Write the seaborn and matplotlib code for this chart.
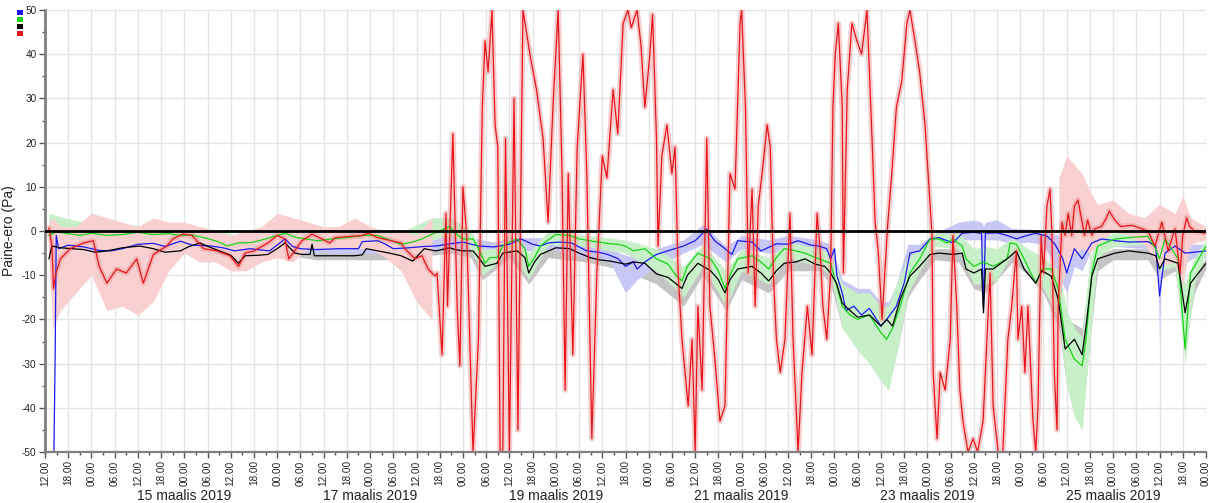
import pandas as pd
import numpy as np
import matplotlib
matplotlib.use("Agg")
import matplotlib.pyplot as plt
import matplotlib.dates as mdates
import matplotlib.transforms as mtrans
from matplotlib.patches import Patch
from matplotlib.ticker import MultipleLocator
import seaborn as sns

# ---------------- data (hours after 14 Mar 2019 12:00, value in Pa) ----------------
START = pd.Timestamp("2019-03-14 12:00")
END = pd.Timestamp("2019-03-27 00:00")

blue = [(1,-50),(2.3,-50),(2.6,-30),(2.9,-1),(3.5,-4),(6,-3.2),(10,-3.6),(14,-4.4),(17,-4.5),(20,-4),
        (24,-3),(28,-2.8),(31,-3.5),(35,-2.3),(38,-3.2),(43,-3.4),(46,-3.8),(49,-4.5),(53,-4),(58,-4.5),
        (61,-2.5),(62,-1.8),(64,-3.5),(66,-4),(70,-4.2),(76,-4),(81,-4),(82,-2.4),(86,-2.2),(88,-3),
        (90,-4),(94,-3.8),(98,-3.5),(101,-3.4),(104,-3),(108,-2.5),(112,-3.4),(116,-3.6),(120,-3),(123,-1.8),
        (126,-3),(128,-3.4),(130,-2.7),(133,-2.5),(136,-2.7),(140,-4.5),(143,-4.8),(145,-5.2),(148,-6.2),(150,-8),
        (152,-7),(153,-8.6),(155,-7),(158,-5.3),(162,-4.2),(165,-3.4),(168,-2.2),(171,0.4),(173,-2.2),(175,-3.5),
        (177.5,-5.3),(179,-2.2),(182.7,-2.5),(185,-4.5),(189,-2.9),(192,-3),(194.6,-2.2),(198,-3.2),(200,-3.4),(202,-4),
        (203,-6.3),(204,-4),(204.6,-10),(206,-14),(207,-18),(209,-17),(211,-19),(213,-17.5),(216,-21.5),(217.5,-20),
        (220,-17),(222,-11.8),(223.5,-5),(226,-4.5),(228.7,-1.8),(231,-1.5),(234.6,-2.7),(237,-0.5),(240,-0.3),(242,-0.5),
        (242.5,-17),(243,-0.5),(246,-0.4),(248.6,-1),(251,-1.8),(253,-1.2),(256,-0.5),(259,-1.2),(261,-3),(263,-6.3),
        (264,-9.5),(266,-4),(268,-6.3),(270.5,-2.7),(273,-1.8),(276.5,-2.2),(280,-2.5),(285,-2.4),(287,-3.4),(288,-14.7),
        (289.4,-5),(292,-3.4),(294.6,-5),(297,-4.8),(300,-4.5)]

green = [(1,-1),(3,-0.2),(6,-0.6),(9,-1),(12,-0.5),(16,-1),(20,-0.8),(24,-0.3),(28,-0.8),(32,-0.6),
         (35,-1),(38,-0.9),(42,-1.7),(45,-2.5),(47,-3.4),(50,-2.7),(53.5,-2.6),(57,-1.8),(60,-1),(62,-0.5),
         (65,-1.5),(70.5,-2.2),(74,-1.8),(78,-1.5),(82,-1),(86,-1),(89,-2),(92,-3),(95,-2.5),(97.4,-1.8),
         (100.8,-0.4),(104.6,1),(106,-0.5),(108,-1.8),(110.6,-1.8),(112,-4),(113.7,-7.3),(115,-6),(116.8,-6),(118.3,-3.4),
         (120,-2.5),(122,-1.8),(124,-4),(125,-8),(126.5,-6),(128,-3.4),(130,-2),(132,-0.8),(135.6,-1),(138,-1.8),
         (140.8,-2.2),(143,-2.5),(146,-2.9),(148,-3),(150,-3.4),(152,-4.5),(155,-4),(158,-6.3),(161,-7.5),(163,-10),
         (164.6,-11.3),(166,-8),(168.7,-5),(172,-6.3),(174,-9),(175.7,-13),(177,-10),(179,-6.3),(182.7,-5.6),(185,-7),
         (187,-8.6),(189,-6),(191,-4),(194,-4.5),(196.4,-5),(199,-6),(201.5,-6.8),(203,-7.3),(204.6,-12.5),(206,-17),
         (208,-19),(210,-20),(213,-19),(216,-23),(217.5,-24.5),(219,-22),(221,-17),(223.5,-9.5),(226,-6.3),(228.7,-1.8),
         (231,-1.8),(233,-2.7),(234.6,-1.8),(237,-3.4),(238,-6.3),(240,-8),(242.5,-7),(245,-8),(248.6,-6.3),(249.4,-2.7),
         (251,-3),(253,-6.3),(256,-11.8),(257.6,-8.6),(260,-8.6),(261.8,-13),(263.6,-24.5),(266,-29),(268,-30.5),(269,-24.5),
         (270.5,-9.5),(272,-3.4),(276.5,-1.8),(280,-1.5),(285,-1.2),(287,-4),(288,-6.3),(289.4,-1.8),(292.8,-6.3),(294.6,-26.7),
         (296,-9.5),(297,-8),(300,-3.4)]

black = [(1,-6.3),(1.8,-3.4),(4,-3.8),(7,-4),(10,-4.2),(13,-4.8),(16,-4.5),(20,-3.8),(24.5,-3.4),(28,-4),
         (31,-4.8),(35,-4.5),(37,-3.6),(40,-2.7),(43,-3.8),(45,-4.5),(48,-5.5),(50,-7.3),(51.7,-5.6),(55,-5.5),
         (57.6,-5.3),(60,-4),(62,-2.7),(64.6,-5),(66.4,-5.3),(68.5,-5.3),(69,-3),(69.6,-5.6),(72,-5.6),(76,-5.6),
         (80,-5.6),(82,-5.4),(83,-4),(86,-4.5),(89,-5),(92,-5.6),(95,-6.8),(98,-4),(101,-4.5),(104.6,-3.8),
         (106,-4.2),(108,-4.5),(110.6,-4.5),(112,-6),(113.7,-8),(116.8,-7.3),(118.3,-5),(122,-4.5),(124,-6),(125,-9.5),
         (126.5,-7),(128,-5.3),(132,-3.8),(135.6,-4),(138,-5),(140.8,-6),(143,-6.5),(146,-6.8),(150,-7.5),(152,-7),
         (155,-7.3),(158,-9.7),(161,-10.5),(164.6,-13),(166,-10),(168.7,-7.3),(172,-9),(174,-11),(175.7,-14),(177,-11),
         (179,-8.6),(182.7,-8),(185,-9.5),(187,-11.3),(189,-9),(191,-7.3),(194,-7),(196.4,-6.3),(199,-7.5),(201.5,-8),
         (203,-9.5),(204.6,-12),(206,-16.3),(208,-18),(210,-19.5),(213,-19),(216,-21.5),(217.5,-20),(219,-21.5),(221,-15.4),
         (223.5,-10.2),(226,-8),(228.7,-5.3),(231,-5),(234.6,-5.3),(237,-5),(238,-8.6),(240,-9.5),(242,-8.6),(242.5,-18.5),
         (243,-8.6),(245,-8.6),(248.6,-6.3),(251,-4.5),(253,-8.6),(256,-11.8),(257.6,-9),(260,-10.2),(261.8,-15.4),(263.6,-26.7),
         (266,-24.5),(268,-28),(269,-21.5),(270.5,-10.2),(272,-6.3),(276.5,-5),(280,-4.5),(285,-5),(287,-5.6),(288,-8.6),
         (289.4,-6.3),(292.8,-7.3),(294.6,-18.5),(296,-11.8),(300,-7.3)]

red = [(1,0.7),(1.8,-3.4),(2.2,-13),(2.8,-9.5),(4,-6.3),(6.5,-4),(10,-2.7),(12.5,-2.2),(14,-8),(16,-11.8),
       (18.5,-8.6),(21,-9.5),(23.7,-6.3),(25.4,-11.8),(28,-5.3),(31.5,-3.4),(33,-1.8),(35.7,-0.7),(38,-1),(41,-4),
       (44.4,-4.5),(47.8,-5.6),(50,-8),(51.7,-5),(54,-4.5),(57.6,-2.7),(60,-1),(62,-1.8),(63,-6.3),(66.4,-2.2),
       (69,-0.7),(73.6,-2.7),(75,-1.5),(82,-1),(83.5,-0.5),(86,-1.5),(92,-2.7),(93,-4),(95.6,-6.3),(97.4,-5.6),
       (99,-8.6),(100.8,-10.2),(101.3,-9.5),(102.6,-28),(103.6,4),(104,-17),(105.4,22),(106.5,-17),(107.2,-30.5),(108,10),
       (109,-1.5),(110.6,-50),(112,-24.5),(113,28),(113.7,43),(114.5,36),(115.5,50),(116.3,24),(117,19),(117.6,-50),
       (118.3,-50),(119,21),(120,-50),(121.2,30),(122.2,-45),(123.5,50),(125.3,40),(127,32),(128.7,21),(130,2),
       (131.3,29),(132.6,50),(133.6,13),(134.4,-36),(135.2,13),(136.4,-28),(137.5,18.6),(139,40),(140,13),(141.3,-47),
       (142.6,-9.5),(144,17),(145.2,12),(146.8,32),(148,22),(149.4,47),(150.6,50),(151.5,46),(153,50),(154,42),
       (155,28),(156.3,40),(157,49),(158,21),(158.4,-3.4),(159.4,17),(160.7,24),(162,13),(162.8,19),(163.6,-9.5),
       (164.6,-24.5),(165.4,-32),(166.2,-39.6),(167.2,-24.5),(168,-50),(168.7,-17),(169.8,-36),(171,21),(171.8,-17),(173,-28),
       (174.4,-43),(175.7,-39.6),(177,13),(178.3,9.5),(179.6,47),(180,50),(181,28),(181.7,-9.5),(182.7,9.5),(183.5,-17),
       (184.3,5.6),(185.3,13),(186.6,24),(187.4,19),(188.2,-9.5),(189,-24.5),(190,-32),(191.2,-24.5),(192.5,4),(193.3,-24.5),
       (194.6,-50),(195.6,-32),(197,-17),(198.2,-28),(199.5,4),(200.3,-4.5),(201,-17),(202,-24.5),(203,-9.5),(203.6,28),
       (204.2,40),(205,47),(206,28),(206.3,-9.5),(207.3,32),(208.5,47),(209.8,43),(211,40),(212.4,50),(213.7,21),
       (214.5,2),(215.3,-4.5),(216.3,-20),(217,-9.5),(217.8,2),(218.8,13),(220,28),(221.4,34),(222.7,47),(223.5,50),
       (224.8,43),(226,36),(227.4,24),(228.2,13),(229.2,-1),(229.5,-32),(230.5,-47),(231.3,-32),(232.6,-36),(233.9,-24.5),
       (234.6,-1),(235.6,-17),(236.4,-36),(237.2,-43),(238.5,-50),(239.8,-47),(241,-50),(242.4,-43),(243.4,-24.5),(244.2,-9.5),
       (245,-39.6),(246.3,-50),(247.5,-50),(248.8,-24.5),(249.8,-17),(251,-4.5),(251.4,-24.5),(252.4,-17),(253.2,-32),(254,-17),
       (255.3,-43),(256,-50),(256.6,-39.6),(257.4,-1),(258,-9.5),(258.9,5.6),(259.7,9.5),(260.2,-1),(260.8,-32),(261.5,-45),
       (261.8,-17),(262.8,2),(263.6,-1),(264.4,4),(265.3,-1),(266,5.6),(266.9,7),(268,2),(268.6,-1),(269.4,2.5),
       (270.5,-1),(271.2,0.5),(273,1),(274.3,3),(275,4.5),(276.4,2.5),(278,1),(280.8,1.3),(283.4,0.5),(285,0),
       (286.8,-3.4),(288.6,2),(290.2,-4.5),(292,0.5),(293.3,-9.5),(294,-1),(295,3),(295.8,1),(297,0),(299.7,-0.5)]

# light min/max envelopes: (hour, low, high)
blue_band = [(4,-5,-1),(10,-5,-2),(20,-5.5,-3),(30,-4.5,-1.5),(40,-4.5,-2),(50,-5.5,-3),(60,-5,-0.5),(70,-5,-3),
             (80,-5,-3),(90,-5,-2.5),(100,-4.5,-2),(105,-4,-1),(110,-4.5,-1.5),(116,-5,-2.5),(120,-4,-1.5),(125,-4.5,-1.5),
             (130,-4,-1.5),(140,-6,-3),(146,-7,-4),(150,-14,-5.5),(153,-11,-6),(158,-8,-4),(165,-5,-2),(170,-3,1.5),
             (176,-7,-3.5),(180,-4,-1),(187,-5,-2),(192,-4.5,-1),(200,-5,-2),(203,-8,-3),(206,-18,-11),(210,-22,-13),
             (213,-24,-13),(216,-30,-16),(218,-28,-16),(220,-24,-12),(223,-9,-3),(226,-6,-3),(230,-3,-0.5),(236,-2,2),
             (240,-2,2.5),(242,-2,2),(242.5,-20,1),(243,-2,2),(246,-2,2.5),(250,-3,0.5),(254,-2.5,0.5),(258,-3,0),
             (262,-10,-1),(264,-14,-3),(266,-8,-2),(268,-9,-4),(270,-5,-1),(272,-3,-0.5),(276,-3.5,-1),(285,-4,-1.5),
             (287.5,-5,-2),(288,-26,-2),(288.5,-6,-2),(292,-5,-2),(295,-7,-3),(297,-6,-3),(300,-6,-3)]

green_band = [(1,-2,4),(5,-2,3),(10,-2,2),(20,-2,1.5),(30,-2,1),(40,-2.5,1),(50,-4,-1),(60,-2,1),(70,-3,-0.5),
              (80,-2.5,0.5),(90,-3.5,-1),(100,-2,3),(105,-1,3),(110,-4,0),(113,-10,-4),(116,-8,-4),(120,-4,-1),
              (125,-11,-5),(130,-3,0),(140,-3.5,-1),(150,-5,-2),(158,-9,-4),(165,-15,-8),(170,-8,-3),(176,-17,-9),
              (180,-9,-4),(187,-12,-6),(192,-6,-2.5),(200,-8,-4),(203,-10,-5),(206,-22,-12),(210,-27,-14),(213,-30,-14),
              (216,-34,-17),(218,-36,-17),(220,-28,-12),(223,-14,-6),(226,-9,-4),(230,-3.5,-0.5),(236,-4,-0.5),
              (240,-12,-4),(243,-12,-3.5),(246,-11,-4),(250,-5,-1.5),(254,-9,-4),(258,-13,-6),(262,-20,-9),
              (264,-35,-18),(266,-42,-22),(268,-45,-24),(270,-25,-6),(272,-6,-2),(276,-3.5,-0.5),(285,-3,0),
              (288,-9,-3),(292,-8,-4),(294.6,-30,-12),(297,-12,-6),(300,-5,-2)]

gray_band = [(1,-7,-3),(10,-5,-3.5),(20,-5,-3),(30,-5.5,-2.5),(40,-4,-2),(50,-8,-5),(60,-5,-2),(70,-6.5,-2.5),
             (80,-6.5,-4.5),(90,-6.5,-4),(100,-5.5,-3.5),(105,-5,-3),(110,-6,-3.5),(113,-11,-6),(116,-9,-6),
             (120,-6,-4),(125,-12,-7),(130,-6,-3),(140,-7,-5),(150,-9,-6),(158,-12,-8),(165,-17,-11),(170,-10,-6),
             (176,-18,-12),(180,-11,-7),(187,-14,-10),(192,-9,-6),(200,-9,-6.5),(203,-12,-8),(206,-22,-14),
             (210,-25,-17),(213,-28,-17),(216,-33,-19),(218,-35,-18),(220,-28,-14),(223,-15,-9),(226,-11,-6.5),
             (230,-6.5,-4),(236,-7,-4),(240,-13,-8),(243,-14,-7),(246,-11,-7),(250,-7,-4),(254,-10,-7),(258,-14,-8),
             (262,-22,-13),(264,-35,-20),(266,-38,-21),(268,-43,-22),(270,-25,-9),(272,-9,-5.5),(276,-6.5,-4),
             (285,-6.5,-4),(288,-11,-7),(292,-9,-6),(294.6,-26,-15),(297,-14,-10),(300,-8.5,-6)]

red_band_early = [(1,-5,2),(2,-22,3),(4,-18,1),(8,-14,1),(12,-10,4),(16,-18,3),(20,-17,2),(24,-19,1),(28,-16,3),
                  (32,-9,2),(36,-5,2),(40,-7,1),(44,-7,0),(48,-9,-1),(52,-9,0),(56,-7,1),(60,-6,4),(64,-7,3),
                  (68,-4,2),(72,-4,1),(76,-4,1),(80,-4,3),(84,-4,1),(88,-6,0),(92,-9,0),(96,-16,-1),(100,-20,3)]
red_band_late = [(262,-15,12),(264,-8,17),(266,-5,15),(268,-4,13),(270,-5,9),(272,-3,6),(276,0,7),(280,-1,4),
                 (284,-3,3),(288,-8,6),(292,-7,4),(294,-12,8),(296,-3,3),(300,-2,1)]

date_labels = ["15 maalis 2019", "17 maalis 2019", "19 maalis 2019",
               "21 maalis 2019", "23 maalis 2019", "25 maalis 2019"]
date_label_centers = ["2019-03-16", "2019-03-18", "2019-03-20",
                      "2019-03-22", "2019-03-24", "2019-03-26"]
y_label = "Paine-ero (Pa)"

colors = {"blue": "#1a1aee", "green": "#16d416", "black": "#000000", "red": "#e8141c"}
band_colors = {"blue": "#c8c8f6", "green": "#c8f0c8", "black": "#c4c4c4", "red": "#f8d0d0"}


def to_df(pairs):
    h, v = zip(*pairs)
    return pd.DataFrame({"t": START + pd.to_timedelta(np.array(h, dtype=float), unit="h"),
                         "v": np.array(v, dtype=float)})


def to_band(triples):
    h, lo, hi = zip(*triples)
    return (START + pd.to_timedelta(np.array(h, dtype=float), unit="h"),
            np.array(lo, dtype=float), np.array(hi, dtype=float))


# ---------------- figure ----------------
sns.set_theme(style="white")
plt.rcParams["font.family"] = ["Liberation Sans", "DejaVu Sans"]
plt.rcParams["axes.unicode_minus"] = False

fig = plt.figure(figsize=(12.16, 5.03), dpi=100)
ax = fig.add_axes([45 / 1216, 1 - 452 / 503, 1161 / 1216, 442 / 503])

# envelopes
for key, band in [("black", gray_band), ("blue", blue_band), ("green", green_band),
                  ("red", red_band_early), ("red", red_band_late)]:
    t, lo, hi = to_band(band)
    ax.fill_between(t, lo, hi, color=band_colors[key], lw=0, zorder=1)

dfs = {"blue": to_df(blue), "green": to_df(green), "black": to_df(black), "red": to_df(red)}

# light halo round the red series
sns.lineplot(data=dfs["red"], x="t", y="v", ax=ax, color="#f29a9a", linewidth=4.0,
             alpha=0.5, estimator=None, zorder=1.5)

for key in ["blue", "green", "black", "red"]:
    sns.lineplot(data=dfs[key], x="t", y="v", ax=ax, color=colors[key], linewidth=0.9,
                 estimator=None, zorder=2)

ax.axhline(0, color="black", lw=2.0, zorder=3)

# axes
ax.set_xlim(START, END)
ax.set_ylim(-50, 50)
ax.yaxis.set_major_locator(MultipleLocator(10))
ax.yaxis.set_minor_locator(MultipleLocator(5))
ax.xaxis.set_major_locator(mdates.HourLocator(byhour=[0, 6, 12, 18]))
ax.xaxis.set_minor_locator(mdates.HourLocator(byhour=[3, 9, 15, 21]))
ax.xaxis.set_major_formatter(mdates.DateFormatter("%H.%M"))
ax.grid(True, which="major", color="#e4e4e4", lw=1.0, zorder=0)
ax.set_axisbelow(True)

for s in ["top", "right"]:
    ax.spines[s].set_visible(False)
ax.spines["left"].set_color("#808080")
ax.spines["left"].set_linewidth(2.0)
ax.spines["bottom"].set_color("#808080")
ax.spines["bottom"].set_linewidth(1.6)

ax.tick_params(axis="both", which="major", direction="out", length=4, width=1,
               color="#555555", labelsize=7.2, labelcolor="#222222", pad=2,
               bottom=True, left=True)
ax.tick_params(axis="both", which="minor", direction="out", length=2.5, width=1,
               color="#555555", bottom=True, left=True)
ax.tick_params(axis="x", which="major", labelrotation=90, pad=2)

ax.set_xlabel("")
ax.set_ylabel(y_label, fontsize=10, color="#222222")
ax.yaxis.set_label_coords(-0.025, 0.5)

trans = mtrans.blended_transform_factory(ax.transData, ax.transAxes)
for lab, c in zip(date_labels, date_label_centers):
    ax.text(pd.Timestamp(c), -0.099, lab, transform=trans, ha="center", va="center",
            fontsize=10, color="#222222")

handles = [Patch(facecolor=colors[k], edgecolor="none") for k in ["blue", "green", "black", "red"]]
fig.legend(handles, ["", "", "", ""], loc="upper left", bbox_to_anchor=(17 / 1216, 1 - 10 / 503),
           frameon=False, fontsize=4, handlelength=1.1, handleheight=1.1, handletextpad=0,
           labelspacing=0.25, borderpad=0, borderaxespad=0)

fig.savefig("out.png", dpi=100)
